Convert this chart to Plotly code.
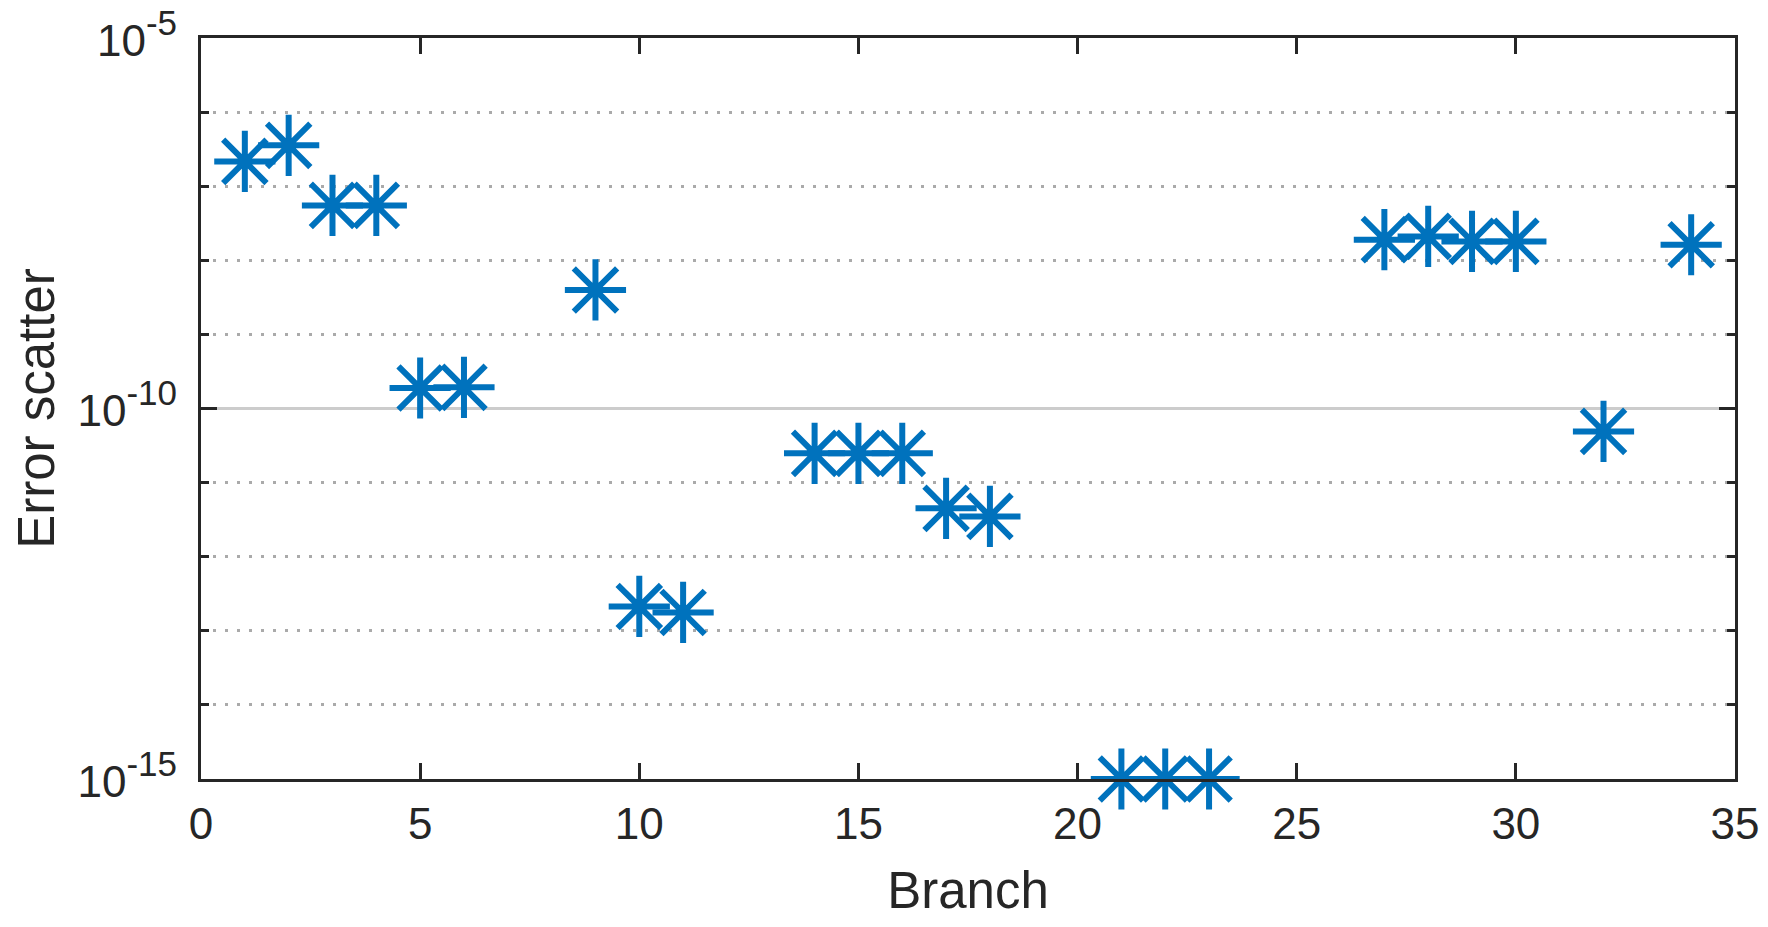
import plotly.graph_objects as go

# branch index and error scatter values
branch = [1, 2, 3, 4, 5, 6, 9, 10, 11, 14, 15, 16, 17, 18, 21, 22, 23, 27, 28, 29, 30, 32, 34]
error_scatter = [2.16e-7, 3.56e-7, 5.51e-8, 5.51e-8, 1.89e-10, 1.93e-10, 3.98e-9, 2.13e-13, 1.77e-13,
                 2.48e-11, 2.48e-11, 2.48e-11, 4.49e-12, 3.50e-12, 1e-15, 1e-15, 1e-15,
                 1.90e-8, 2.10e-8, 1.80e-8, 1.80e-8, 4.91e-11, 1.62e-8]

x_ticks = [0, 5, 10, 15, 20, 25, 30, 35]
y_ticks = [1e-15, 1e-10, 1e-5]
y_exponents = ["-15", "-10", "-5"]
# base "10" at 44px, exponent comes out at 70% of the 50px tick font
y_ticktext = ['<span style="font-size:44px">10</span><sup>%s</sup>' % e for e in y_exponents]
y_minor = [10.0 ** k for k in range(-14, -5)]

blue = "#0072BD"
dark = "#262626"

fig = go.Figure()
fig.add_trace(go.Scatter(
    x=branch, y=error_scatter, mode="markers", cliponaxis=False,
    marker=dict(symbol="asterisk-open", size=51, color=blue, line=dict(color=blue, width=6)),
    showlegend=False,
))

# page body has an 8px margin, so the figure is sized to fit inside the window
fig.update_layout(
    width=1752, height=911,
    margin=dict(l=191, r=25, t=30, b=140),
    paper_bgcolor="white", plot_bgcolor="white",
    font=dict(family="Liberation Sans, Arial, sans-serif", size=44, color=dark),
)

fig.update_xaxes(
    range=[0, 35], tickmode="array", tickvals=x_ticks, automargin=False,
    ticks="inside", ticklen=16, tickwidth=3, tickcolor=dark,
    showline=True, linewidth=3, linecolor=dark, mirror="ticks",
    showgrid=False, zeroline=False, ticklabelstandoff=4, ticklabeloverflow="allow",
    title=dict(text="Branch", font=dict(size=51), standoff=33),
)

fig.update_yaxes(
    type="log", range=[-15, -5], tickmode="array", tickvals=y_ticks, ticktext=y_ticktext,
    tickfont=dict(size=50), automargin="left",
    ticks="inside", ticklen=16, tickwidth=3, tickcolor=dark,
    showline=True, linewidth=3, linecolor=dark, mirror="ticks",
    showgrid=True, gridcolor="#cccccc", gridwidth=3, zeroline=False,
    ticklabelstandoff=11, ticklabeloverflow="allow",
    minor=dict(tickmode="array", tickvals=y_minor, ticks="inside", ticklen=8, tickwidth=3,
               tickcolor=dark, showgrid=True, gridcolor="#aaaaaa", gridwidth=3, griddash="3px,9px"),
    title=dict(text="Error scatter", font=dict(size=51), standoff=22),
)

fig.write_html("out.html")
